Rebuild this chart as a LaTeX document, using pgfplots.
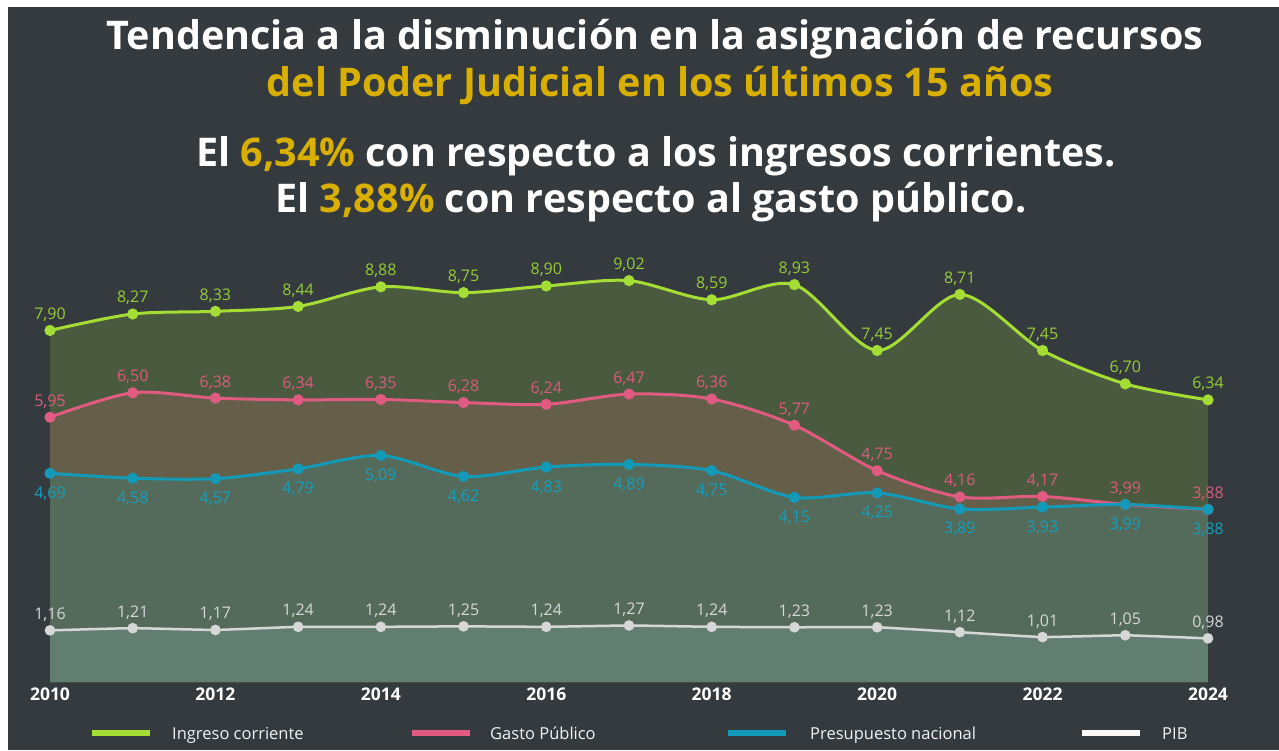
\documentclass[border=0pt]{standalone}
\usepackage{fontspec}
\setmainfont{Open Sans}
\usepackage{pgfplots}
\pgfplotsset{compat=1.18}
\definecolor{bg}{RGB}{52,58,62}
\definecolor{ttl}{RGB}{218,176,0}
\definecolor{cgreen}{RGB}{164,222,52}
\definecolor{cpink}{RGB}{224,90,130}
\definecolor{cteal}{RGB}{18,154,184}
\definecolor{cpib}{RGB}{215,215,215}
\definecolor{fgreen}{RGB}{74,90,62}
\definecolor{fpink}{RGB}{101,95,74}
\definecolor{fteal}{RGB}{84,107,92}
\definecolor{fpib}{RGB}{98,126,113}
\definecolor{lgreen}{RGB}{150,205,55}
\definecolor{lpink}{RGB}{218,92,125}
\definecolor{lteal}{RGB}{20,160,190}
\pgfplotstableread{
year ing gas pre pib
2010 7.90 5.95 4.69 1.16
2011 8.27 6.50 4.58 1.21
2012 8.33 6.38 4.57 1.17
2013 8.44 6.34 4.79 1.24
2014 8.88 6.35 5.09 1.24
2015 8.75 6.28 4.62 1.25
2016 8.90 6.24 4.83 1.24
2017 9.02 6.47 4.89 1.27
2018 8.59 6.36 4.75 1.24
2019 8.93 5.77 4.15 1.23
2020 7.45 4.75 4.25 1.23
2021 8.71 4.16 3.89 1.12
2022 7.45 4.17 3.93 1.01
2023 6.70 3.99 3.99 1.05
2024 6.34 3.88 3.88 0.98
}\datatable
\begin{document}
\begin{tikzpicture}
\begin{scope}[x=1pt,y=1pt]
\fill[white] (0,0) rectangle (1279,750);
\fill[bg] (8,0) rectangle (1279,743);
\node[anchor=base,font=\bfseries\fontsize{39.5}{46}\selectfont,text=white] at (655,700) {Tendencia a la disminución en la asignación de recursos};
\node[anchor=base,font=\bfseries\fontsize{39.5}{46}\selectfont,text=ttl] at (660,653) {del Poder Judicial en los últimos 15 años};
\node[anchor=base,font=\bfseries\fontsize{39.5}{46}\selectfont,text=white] at (656,583) {El \textcolor{ttl}{6,34\%} con respecto a los ingresos corrientes.};
\node[anchor=base,font=\bfseries\fontsize{39.5}{46}\selectfont,text=white] at (651,537) {El \textcolor{ttl}{3,88\%} con respecto al gasto público.};
\end{scope}
\begin{axis}[
  at={(50pt,68pt)}, anchor=south west,
  width=1158pt, height=422.75pt, scale only axis,
  xmin=2010, xmax=2024, ymin=0, ymax=9.5,
  clip=false,
  axis line style={draw=none},
  major tick length=0pt,
  ytick=\empty,
  xtick={2010,2012,...,2024},
  xticklabel style={font=\bfseries\fontsize{17.5}{20}\selectfont, text=white, anchor=base, yshift=-18pt, /pgf/number format/1000 sep={}, /pgf/number format/assume math mode=true},
  /pgf/number format/assume math mode=true,
  every axis plot/.append style={smooth, tension=0.5},
  nodes near coords={\pgfmathprintnumber[fixed,fixed zerofill,precision=2,use comma,assume math mode=true]{\pgfplotspointmeta}},
]
\addplot[fill=fgreen, draw=none, nodes near coords=] table[x=year,y=ing] {\datatable} \closedcycle;
\addplot[fill=fpink, draw=none, nodes near coords=] table[x=year,y=gas] {\datatable} \closedcycle;
\addplot[fill=fteal, draw=none, nodes near coords=] table[x=year,y=pre] {\datatable} \closedcycle;
\addplot[fill=fpib, draw=none, nodes near coords=] table[x=year,y=pib] {\datatable} \closedcycle;
\addplot[cgreen, line width=3pt, mark=*, mark size=4pt, mark options={solid},
  point meta=y, every node near coord/.style={font=\fontsize{16}{19}\selectfont, text=lgreen, anchor=base, inner sep=0pt, yshift=11pt}]
  table[x=year,y=ing] {\datatable};
\addplot[cpink, line width=3pt, mark=*, mark size=4pt,
  point meta=y, every node near coord/.style={font=\fontsize{16}{19}\selectfont, text=lpink, anchor=base, inner sep=0pt, yshift=11pt}]
  table[x=year,y=gas] {\datatable};
\addplot[cteal, line width=3pt, mark=*, mark size=4pt,
  point meta=y, every node near coord/.style={font=\fontsize{16}{19}\selectfont, text=lteal, anchor=base, inner sep=0pt, yshift=-25pt}]
  table[x=year,y=pre] {\datatable};
\addplot[cpib, line width=2.5pt, mark=*, mark size=4pt, tension=0.2,
  point meta=y, every node near coord/.style={font=\fontsize{16}{19}\selectfont, text=cpib, anchor=base, inner sep=0pt, yshift=11pt}]
  table[x=year,y=pib] {\datatable};
\end{axis}
\begin{scope}[x=1pt,y=1pt]
\draw[line width=6pt, cgreen] (92,17) -- (150,17);
\node[anchor=base west, inner sep=0pt, text=white!90!gray, font=\fontsize{16.5}{19}\selectfont] at (172,11) {Ingreso corriente};
\draw[line width=6pt, cpink] (412,17) -- (470,17);
\node[anchor=base west, inner sep=0pt, text=white!90!gray, font=\fontsize{16.5}{19}\selectfont] at (490,11) {Gasto Público};
\draw[line width=6pt, cteal] (728,17) -- (786,17);
\node[anchor=base west, inner sep=0pt, text=white!90!gray, font=\fontsize{16.5}{19}\selectfont] at (810,11) {Presupuesto nacional};
\draw[line width=6pt, white!95!gray] (1082,17) -- (1140,17);
\node[anchor=base west, inner sep=0pt, text=white!90!gray, font=\fontsize{16.5}{19}\selectfont] at (1162,11) {PIB};
\end{scope}
\end{tikzpicture}
\end{document}
